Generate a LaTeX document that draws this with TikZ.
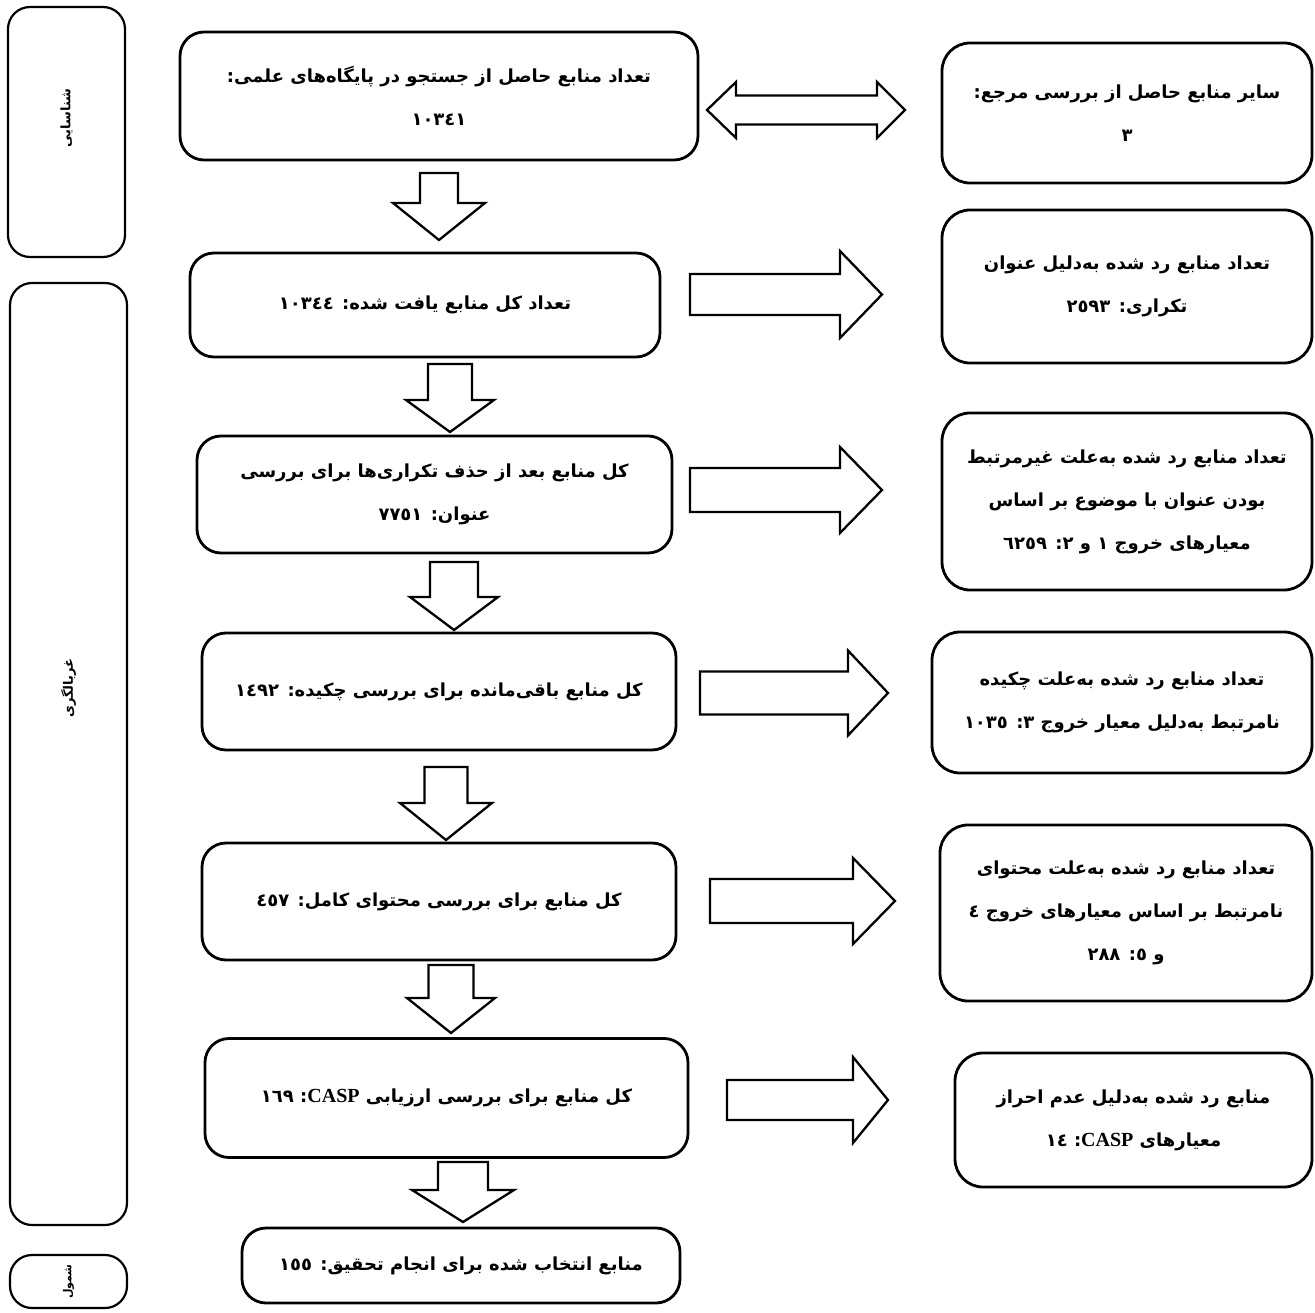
\documentclass[tikz,border=0pt]{standalone}
\usepackage{fontspec}
\newfontfamily\arabicfont[Script=Arabic]{DejaVu Sans}
\newfontfamily\latinfont{Liberation Serif}
\TeXXeTstate=1
\newcommand\fatext[1]{\beginR #1\endR}
\newcommand\blkdown[6]{\draw[blockarrow] ({#1-#5},#2) -- ({#1+#5},#2) -- ({#1+#5},#3) -- ({#1+#6},#3) -- (#1,#4) -- ({#1-#6},#3) -- ({#1-#5},#3) -- cycle;}
\newcommand\blkright[6]{\draw[blockarrow] (#2,{#1-#5}) -- (#3,{#1-#5}) -- (#3,{#1-#6}) -- (#4,#1) -- (#3,{#1+#6}) -- (#3,{#1+#5}) -- (#2,{#1+#5}) -- cycle;}
\begin{document}
\begin{tikzpicture}[x=1pt,y=-1pt,
  box/.style={draw, line width=2.8pt, rounded corners=24pt, inner sep=0pt, align=center,
    font=\arabicfont\bfseries\fontsize{18}{43}\selectfont},
  stage/.style={draw, line width=2.2pt, rounded corners=22pt, inner sep=0pt},
  stagetext/.style={rotate=90, inner sep=0pt, font=\arabicfont\bfseries\fontsize{13}{16}\selectfont},
  blockarrow/.style={draw, line width=2.3pt, line join=miter, fill=white}]
\useasboundingbox (0,0) rectangle (1315,1313);

% stage boxes
\node[stage, minimum width=117pt, minimum height=250pt] (s1) at (66.5,132) {};
\node[stage, minimum width=117pt, minimum height=942pt] (s2) at (68.5,754) {};
\node[stage, minimum width=117pt, minimum height=53pt] (s3) at (68.5,1281.5) {};
\node[stagetext] (t1) at (66.5,118) {\fatext{شناسایی}};
\node[stagetext] (t2) at (68.5,688) {\fatext{غربالگری}};
\node[stagetext, font=\arabicfont\bfseries\fontsize{11}{14}\selectfont] (t3) at (s3.center) {\fatext{شمول}};

% main column
\node[box, minimum width=518pt, minimum height=128pt] (b1) at (439,96)
  {\fatext{تعداد منابع حاصل از جستجو در پایگاه‌های علمی:}\\\fatext{١٠٣٤١}};
\node[box, minimum width=470pt, minimum height=104pt] (b2) at (425,305)
  {\fatext{تعداد کل منابع یافت شده: ١٠٣٤٤}};
\node[box, minimum width=475pt, minimum height=117pt] (b3) at (434.5,494.5)
  {\fatext{کل منابع بعد از حذف تکراری‌ها برای بررسی}\\\fatext{عنوان: ٧٧٥١}};
\node[box, minimum width=474pt, minimum height=117pt] (b4) at (439,691.5)
  {\fatext{کل منابع باقی‌مانده برای بررسی چکیده: ١٤٩٢}};
\node[box, minimum width=474pt, minimum height=117pt] (b5) at (439,901.5)
  {\fatext{کل منابع برای بررسی محتوای کامل: ٤٥٧}};
\node[box, minimum width=483pt, minimum height=119pt] (b6) at (446.5,1098)
  {\fatext{کل منابع برای بررسی  ارزیابی {\latinfont\bfseries\fontsize{20}{43}\selectfont CASP}: ١٦٩}};
\node[box, minimum width=438pt, minimum height=75pt] (b7) at (461,1265.5)
  {\fatext{منابع انتخاب شده برای انجام تحقیق: ١٥٥}};

% right column
\node[box, rounded corners=28pt, minimum width=370pt, minimum height=140pt] (r1) at (1127,113)
  {\fatext{سایر منابع حاصل از بررسی مرجع:}\\\fatext{٣}};
\node[box, rounded corners=28pt, minimum width=370pt, minimum height=153pt] (r2) at (1127,286.5)
  {\fatext{تعداد منابع رد شده به‌دلیل عنوان}\\\fatext{تکراری: ٢٥٩٣}};
\node[box, rounded corners=28pt, minimum width=370pt, minimum height=177pt] (r3) at (1127,501.5)
  {\fatext{تعداد منابع رد شده به‌علت غیرمرتبط}\\\fatext{بودن عنوان با موضوع بر اساس}\\\fatext{معیارهای خروج ١ و ٢: ٦٢٥٩}};
\node[box, rounded corners=28pt, minimum width=380pt, minimum height=141pt] (r4) at (1122,702.5)
  {\fatext{تعداد منابع رد شده به‌علت چکیده}\\\fatext{نامرتبط به‌دلیل معیار خروج ٣: ١٠٣٥}};
\node[box, rounded corners=28pt, minimum width=372pt, minimum height=176pt] (r5) at (1126,913)
  {\fatext{تعداد منابع رد شده به‌علت محتوای}\\\fatext{نامرتبط بر اساس معیارهای خروج ٤}\\\fatext{و ٥: ٢٨٨}};
\node[box, rounded corners=28pt, minimum width=357pt, minimum height=134pt] (r6) at (1133.5,1120)
  {\fatext{منابع رد شده به‌دلیل عدم احراز}\\\fatext{معیارهای {\latinfont\bfseries\fontsize{20}{43}\selectfont CASP}: ١٤}};

% double arrow
\draw[blockarrow] (707,110) -- (736,82) -- (736,95.5) -- (877,95.5) -- (877,82) -- (905,110)
  -- (877,138) -- (877,124.5) -- (736,124.5) -- (736,138) -- cycle;

% down arrows
\blkdown{439}{173}{203}{240}{19}{46}
\blkdown{450}{364}{400}{432}{22}{44}
\blkdown{454}{562}{597}{630}{24}{44}
\blkdown{446}{767}{803}{840}{21.5}{46}
\blkdown{451}{965}{998}{1033}{22.5}{44}
\blkdown{463}{1162}{1190}{1222}{25}{51}

% right arrows
\blkright{294.5}{690}{840}{882}{20.5}{43.5}
\blkright{490}{690}{840}{882}{22}{43}
\blkright{693}{700}{848}{888}{21.5}{42.5}
\blkright{901}{710}{853}{895}{22}{43}
\blkright{1100}{727}{853}{888}{20}{43}
\end{tikzpicture}
\end{document}
